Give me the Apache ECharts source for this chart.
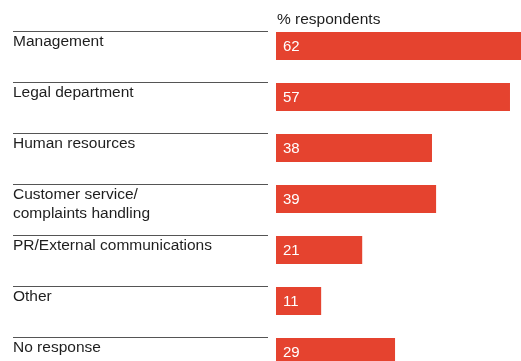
<!DOCTYPE html>
<html>
<head>
<meta charset="utf-8">
<style>
  html, body { margin: 0; padding: 0; background: #fff; }
  #chart { width: 521px; height: 361px; }
</style>
<script src="https://cdn.jsdelivr.net/npm/echarts@6/dist/echarts.min.js"></script>
</head>
<body>
<div id="chart"></div>
<script>
// Responsibility areas and share of respondents (%)
const categories = [
  'Management',
  'Legal department',
  'Human resources',
  'Customer service/\ncomplaints handling',
  'PR/External communications',
  'Other',
  'No response'
];
const respondents = [62, 57, 38, 39, 21, 11, 29];
const unitLabel = '% respondents';

const FONT = '"Liberation Sans", Arial, Helvetica, sans-serif';
const TEXT = '#1e1e1e';
const BAR = '#e5432f';

const chart = echarts.init(document.getElementById('chart'), null, { renderer: 'canvas' });

chart.setOption({
  animation: false,
  backgroundColor: '#fff',
  title: {
    text: unitLabel,
    left: 277,
    top: 12,
    padding: 0,
    textStyle: { fontFamily: FONT, fontSize: 15.5, fontWeight: 'normal', color: TEXT }
  },
  grid: [
    // left column: ruled category labels
    { left: 13, top: 31, width: 255, height: 306, containLabel: false, outerBoundsMode: 'none' },
    // right column: bars, running past the right and bottom edges
    { left: 276, top: 20.5, width: 410.5, height: 357, containLabel: false, outerBoundsMode: 'none' }
  ],
  xAxis: [
    { gridIndex: 0, type: 'value', min: 0, max: 1, show: false },
    { gridIndex: 1, type: 'value', min: 0, max: 100, show: false }
  ],
  yAxis: [
    {
      gridIndex: 0,
      type: 'category',
      inverse: true,
      boundaryGap: false,
      data: categories,
      axisLine: { show: false },
      axisTick: { show: false },
      axisLabel: {
        inside: true,
        margin: 0,
        align: 'left',
        verticalAlign: 'top',
        lineHeight: 19,
        padding: [1, 0, 0, 0],
        fontFamily: FONT,
        fontSize: 15.5,
        color: TEXT
      },
      splitLine: { show: true, lineStyle: { color: '#555', width: 1 } }
    },
    {
      gridIndex: 1,
      type: 'category',
      inverse: true,
      data: categories,
      show: false
    }
  ],
  series: [
    {
      type: 'bar',
      xAxisIndex: 1,
      yAxisIndex: 1,
      data: respondents,
      barWidth: 28,
      itemStyle: { color: BAR },
      label: {
        show: true,
        position: 'insideLeft',
        distance: 7,
        offset: [0, 1],
        color: '#fff',
        fontFamily: FONT,
        fontSize: 15,
        formatter: '{c}'
      }
    }
  ]
});
</script>
</body>
</html>
